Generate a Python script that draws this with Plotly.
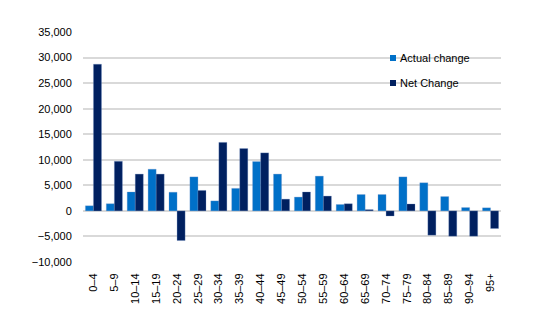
import plotly.graph_objects as go

categories = ["0–4", "5–9", "10–14", "15–19", "20–24", "25–29", "30–34", "35–39",
              "40–44", "45–49", "50–54", "55–59", "60–64", "65–69", "70–74", "75–79",
              "80–84", "85–89", "90–94", "95+"]
actual_change = [1000, 1400, 3700, 8150, 3650, 6650, 1950, 4400, 9650, 7200,
                 2700, 6800, 1250, 3200, 3200, 6650, 5500, 2800, 650, 600]
net_change = [28700, 9700, 7200, 7200, -5800, 4000, 13400, 12200, 11350, 2300,
              3700, 2900, 1400, 250, -1000, 1350, -4750, -4950, -4950, -3450]
tick_vals = [-10000, -5000, 0, 5000, 10000, 15000, 20000, 25000, 30000, 35000]
series_names = ["Actual change", "Net Change"]
colors = ["#0070C8", "#002060"]

W, H = 545, 328
ml, mr, mt, mb = 83, 44, 32, 66
pw, ph = W - ml - mr, H - mt - mb

fig = go.Figure()
for name, vals, col in zip(series_names, [actual_change, net_change], colors):
    fig.add_trace(go.Bar(x=categories, y=vals, name=name, showlegend=False,
                         marker=dict(color=col, line=dict(color="rgba(120,150,200,0.6)", width=0.5))))

font = "Liberation Sans, Arial, sans-serif"
# custom legend (small square swatches like the reference)
leg_y = [58, 83]
for name, col, yy in zip(series_names, colors, leg_y):
    x0 = (390 - ml) / pw
    x1 = (396 - ml) / pw
    y0 = (H - mb - (yy + 3)) / ph
    y1 = (H - mb - (yy - 3)) / ph
    fig.add_shape(type="rect", xref="paper", yref="paper", x0=x0, x1=x1, y0=y0, y1=y1,
                  fillcolor=col, line=dict(width=0))
    fig.add_annotation(xref="paper", yref="paper", x=(398 - ml) / pw, y=(H - mb - yy) / ph,
                       text=name, showarrow=False, xanchor="left", yanchor="middle",
                       font=dict(family=font, size=11, color="#000000"))

fig.update_layout(
    width=W, height=H,
    margin=dict(l=ml, r=mr, t=mt, b=mb),
    paper_bgcolor="white", plot_bgcolor="white",
    barmode="group", bargap=0.23, bargroupgap=0,
    font=dict(family=font, size=11, color="#000000"),
    xaxis=dict(tickangle=-90, showgrid=False, zeroline=False, showline=False,
               ticks="outside", ticklen=6, tickcolor="rgba(0,0,0,0)",
               tickfont=dict(size=11)),
    yaxis=dict(range=[-10000, 35000], tickvals=tick_vals, tickformat=",",
               showgrid=True, gridcolor="#D9D9D9", gridwidth=1.5,
               zeroline=True, zerolinecolor="#D9D9D9", zerolinewidth=1.5,
               showline=False, ticks="outside", ticklen=8, tickcolor="rgba(0,0,0,0)",
               tickfont=dict(size=11)),
)
fig.write_html("out.html")
